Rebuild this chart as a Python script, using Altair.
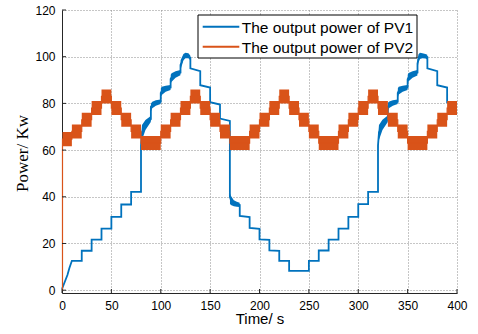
import altair as alt
import pandas as pd

BLUE = "#0072BD"
ORANGE = "#D95319"
LABEL1 = "The output power of PV1"
LABEL2 = "The output power of PV2"

# ---- PV1: centre line (time s, power kW) ----
PV1_T = [0, 5.5, 7.5, 10, 20, 20, 30, 30, 40, 40, 50, 50, 60, 60, 70, 70, 80,
         80, 81, 84.5, 90, 90, 91.4, 95, 100, 100, 101, 105, 110, 110, 111, 115, 120,
         120, 121, 123, 125, 128, 130, 130, 140, 140, 150, 150, 160, 160, 170,
         170, 171, 174, 177, 180, 180, 190, 190, 200, 200, 210, 210, 220, 220, 230,
         230, 250, 250, 260, 260, 270, 270, 280, 280, 290, 290, 300, 300, 310, 310, 320,
         320, 321, 324.5, 330, 330, 331.4, 335, 340, 340, 341, 345, 350, 350, 351, 355, 360,
         360, 361, 362.5, 365, 368, 370, 370, 380, 380, 390, 390, 400]
PV1_P = [0.5, 6.5, 9.5, 12.6, 12.6, 16.9, 16.9, 21.7, 21.7, 26.4, 26.4, 31.4, 31.4, 36.7, 36.7, 42.1, 42.1,
         62, 67.5, 70.7, 73.3, 78.5, 79.3, 80.1, 80.7, 84.5, 85.3, 86.3, 86.8, 90.4, 91.1, 92.4, 93.2,
         96.5, 97.5, 99.8, 100.5, 100.4, 99.5, 95, 93.8, 87.8, 86.8, 80.5, 79.5, 73.5, 72.5,
         40, 38.7, 37.2, 36.7, 36.5, 31.8, 31.3, 26.7, 26.3, 21.8, 21.6, 17, 16.8, 12.6, 12.6,
         8.3, 8.3, 12.6, 12.6, 17, 17, 21.7, 21.7, 26.4, 26.4, 31.4, 31.4, 36.9, 36.9, 42.1, 42.1,
         62, 67.5, 70.8, 73.4, 78.6, 79.4, 80.1, 80.7, 84.5, 85.4, 86.3, 86.8, 90.4, 91.2, 92.4, 93.2,
         97, 99.2, 100.3, 100.4, 100.2, 99.8, 95, 93.8, 87.8, 86.8, 80.5, 79.8]

# ---- PV1: ripple bands (segment id, time, lower, upper) ----
BAND_SEG = [1] * 4 + [2] * 4 + [3] * 4 + [4] * 4 + [5] * 6 + [6] * 5 + \
           [7] * 4 + [8] * 4 + [9] * 4 + [10] * 4 + [11] * 6
BAND_T = [80.1, 81, 84.5, 89.9,
          90.1, 91.4, 95, 99.9,
          100.1, 101, 105, 109.9,
          110.1, 111, 115, 119.9,
          120.1, 121, 123, 125, 128, 129.9,
          170.1, 171, 174, 177, 179.9,
          320.1, 321, 324.5, 329.9,
          330.1, 331.4, 335, 339.9,
          340.1, 341, 345, 349.9,
          350.1, 351, 355, 359.9,
          360.1, 361, 362.5, 365, 368, 369.9]
BAND_LO = [60, 64.3, 68.6, 72,
           76.5, 77.9, 79, 79.7,
           82.5, 83.6, 85, 85.7,
           88.5, 89.3, 91, 92.1,
           94.5, 95.7, 98.5, 99.3, 99.3, 98.5,
           37, 36.5, 36, 35.7, 35.6,
           60, 64.3, 68.6, 72,
           77, 78, 79, 79.7,
           82.5, 83.8, 85, 85.7,
           88.5, 89.5, 91, 92,
           95, 97.5, 99, 99.3, 99.2, 98.8]
BAND_HI = [66, 70.7, 72.9, 74.6,
           80, 80.7, 81.3, 81.7,
           86.5, 87.1, 87.6, 87.9,
           92.3, 92.9, 93.8, 94.3,
           98.5, 99.3, 101.2, 101.7, 101.5, 100.5,
           41.5, 40.5, 38.5, 37.9, 37.5,
           66, 70.7, 73, 74.8,
           80.3, 80.8, 81.3, 81.7,
           86.5, 87.1, 87.6, 87.9,
           92.3, 93, 93.8, 94.3,
           99, 101, 101.7, 101.5, 101.2, 100.8]

# ---- PV2: step levels (step start time, level) ----
PV2_T = [0, 0.5, 10, 20, 30, 40, 50, 60, 70, 80,
         100, 110, 120, 130, 140, 150, 160, 170,
         190, 200, 210, 220, 230, 240, 250, 260,
         280, 290, 300, 310, 320, 330, 340, 350,
         370, 380, 390, 400]
PV2_P = [0, 64.7, 68, 73, 78, 83, 78, 73, 68, 63,
         68, 73, 78, 83, 78, 73, 68, 63,
         68, 73, 78, 83, 78, 73, 68, 63,
         68, 73, 78, 83, 78, 73, 68, 63,
         68, 73, 78, 78]
PV2_RIPPLE = 3.0

X_TICKS = [0, 50, 100, 150, 200, 250, 300, 350, 400]
Y_TICKS = [0, 20, 40, 60, 80, 100, 120]

pv1 = pd.DataFrame({"t": PV1_T, "p": PV1_P, "i": range(len(PV1_T))})
band = pd.DataFrame({"seg": BAND_SEG, "t": BAND_T, "lo": BAND_LO, "hi": BAND_HI})
pv2 = pd.DataFrame({"t": PV2_T, "p": PV2_P})
pv2_band = pv2[pv2["p"] > 0].copy()
pv2_band["lo"] = pv2_band["p"] - PV2_RIPPLE
pv2_band["hi"] = pv2_band["p"] + PV2_RIPPLE
xt = pd.DataFrame({"t": X_TICKS})
yt = pd.DataFrame({"p": Y_TICKS})
one = pd.DataFrame({"k": [0]})

xscale = alt.Scale(domain=[0, 400], nice=False, zero=False)
yscale = alt.Scale(domain=[-1.2, 120], nice=False, zero=False)

xaxis = alt.Axis(values=X_TICKS, title="Time/ s", titleFont="Liberation Sans",
                 titleFontSize=15, titleFontWeight="normal", titleColor="black",
                 titleBaseline="alphabetic", titleY=30, titleX=197.5,
                 labelFont="Liberation Sans", labelFontSize=12, labelColor="black",
                 labelPadding=7.5, ticks=False, tickSize=0, grid=True,
                 gridColor="#8c8c8c", gridDash=[1, 2], gridWidth=1,
                 domainColor="#262626", domainWidth=1, labelFlush=False)
yaxis = alt.Axis(values=Y_TICKS, title="Power/ Kw", titleFont="Liberation Serif",
                 titleFontSize=17, titleFontWeight="normal", titleColor="black",
                 titleBaseline="alphabetic", titleAngle=270, titleX=-35, titleY=143,
                 labelFont="Liberation Sans", labelFontSize=12, labelColor="black",
                 labelPadding=7, ticks=False, tickSize=0, grid=True,
                 gridColor="#8c8c8c", gridDash=[1, 2], gridWidth=1,
                 domainColor="#262626", domainWidth=1, labelFlush=False)

X = alt.X("t:Q", scale=xscale, axis=xaxis)
Y = alt.Y("p:Q", scale=yscale, axis=yaxis)
YLO = alt.Y("lo:Q", scale=yscale, axis=yaxis)

band_layer = alt.Chart(band).mark_area(color=BLUE, opacity=1).encode(
    x=X, y=YLO, y2="hi:Q", detail="seg:N")

pv1_line = alt.Chart(pv1).mark_line(strokeWidth=1.8, color=BLUE).encode(
    x=X, y=Y, order="i:Q")

pv2_area = alt.Chart(pv2_band).mark_area(color=ORANGE, opacity=1,
                                         interpolate="step-after").encode(
    x=X, y=YLO, y2="hi:Q")

pv2_line = alt.Chart(pv2).mark_line(strokeWidth=1.2, color=ORANGE,
                                    interpolate="step-after").encode(x=X, y=Y)

xticks = alt.Chart(xt).mark_rule(color="#262626", strokeWidth=1).encode(
    x=X, y=alt.value(283), y2=alt.value(279))
yticks = alt.Chart(yt).mark_rule(color="#262626", strokeWidth=1).encode(
    y=Y, x=alt.value(0), x2=alt.value(4))

# ---- legend (drawn in the upper middle of the plot, as in the figure) ----
leg_box = alt.Chart(one).mark_rect(fill="white", stroke="black", strokeWidth=1).encode(
    x=alt.value(136), x2=alt.value(355), y=alt.value(5), y2=alt.value(48))
leg_l1 = alt.Chart(one).mark_rule(color=BLUE, strokeWidth=2).encode(
    x=alt.value(140.7), x2=alt.value(177.3), y=alt.value(16.7))
leg_l2 = alt.Chart(one).mark_rule(color=ORANGE, strokeWidth=2).encode(
    x=alt.value(140.7), x2=alt.value(177.3), y=alt.value(36.7))
leg_t1 = alt.Chart(one).mark_text(text=LABEL1, align="left", baseline="alphabetic",
                                  font="Liberation Sans", fontSize=15.5,
                                  color="black").encode(
    x=alt.value(179.7), y=alt.value(22.7))
leg_t2 = alt.Chart(one).mark_text(text=LABEL2, align="left", baseline="alphabetic",
                                  font="Liberation Sans", fontSize=15.5,
                                  color="black").encode(
    x=alt.value(179.7), y=alt.value(43.3))

chart = alt.layer(band_layer, pv1_line, pv2_area, pv2_line, xticks, yticks,
                  leg_box, leg_l1, leg_l2, leg_t1, leg_t2).properties(
    width=395, height=283,
    padding={"left": 62, "top": 10, "right": 21, "bottom": 41},
    autosize=alt.AutoSizeParams(type="none"),
    background="white",
).configure_view(stroke=None)

chart.save("out.html", embed_options={"renderer": "svg", "actions": False})
